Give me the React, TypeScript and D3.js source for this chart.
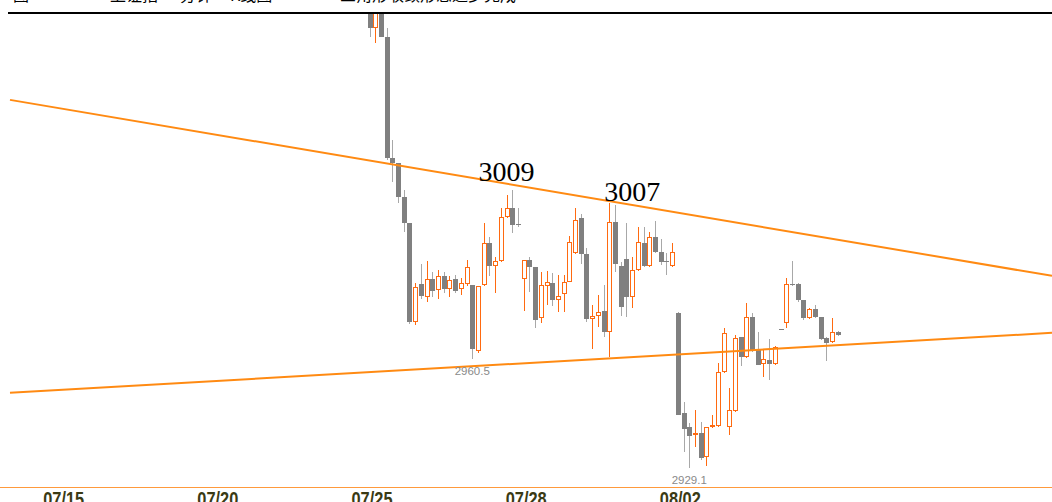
import React from 'react';
import * as d3 from 'd3';

const W = 1052;
const H = 502;

// 30-min candles, index 0 = first visible candle (07/25)
const opens = [
  3066.7, 3055.8, 3063.8, 3053.2, 3018.3, 3016.8, 3007.0, 2999.6, 2971.0, 2982.0,
  2978.2, 2983.4, 2980.2, 2984.3, 2980.5, 2983.4, 2980.5, 2982.0, 2981.7, 2962.7,
  2981.7, 2993.8, 2987.2, 2988.6, 3001.3, 3003.9, 2999.3, 2983.4, 2988.9, 2986.9,
  2972.2, 2981.4, 2982.3, 2977.4, 2979.1, 2982.5, 2990.9, 3001.0, 2990.6, 2971.9,
  2972.7, 2974.2, 2968.1, 2999.8, 2987.2, 2989.2, 2978.2, 2986.0, 2993.8, 2987.2,
  2995.5, 2991.2, 2988.6, 2987.2, 2973.6, 2944.8, 2940.8, 2938.7, 2939.0, 2932.1,
  2940.8, 2941.0, 2956.6, 2940.8, 2945.4, 2966.7, 2960.9, 2972.5, 2963.2, 2958.9,
  2960.1, 2958.9, 2969.0, 2970.7, 2982.0, 2982.0, 2977.4, 2972.2, 2974.8, 2972.5,
  2966.4, 2965.3, 2968.1,
];
const highs = [
  3068.1, 3066.2, 3064.7, 3055.8, 3023.5, 3016.8, 3009.1, 2999.6, 2982.3, 2987.7,
  2988.6, 2985.4, 2986.0, 2985.4, 2984.3, 2984.6, 2983.7, 2988.9, 2981.7, 2981.4,
  2999.6, 2995.5, 2989.8, 3003.9, 3007.6, 3009.0, 3003.9, 2988.9, 2989.8, 2986.9,
  2985.4, 2985.7, 2985.1, 2984.6, 2984.6, 2995.8, 3003.9, 3002.1, 2992.3, 2975.9,
  2978.8, 2981.7, 3005.4, 3004.7, 2988.3, 2999.6, 2989.8, 2998.4, 2998.4, 2997.0,
  3000.1, 2994.9, 2990.9, 2993.8, 2973.9, 2948.0, 2941.9, 2945.7, 2942.2, 2940.8,
  2944.2, 2959.2, 2969.3, 2952.0, 2967.3, 2966.7, 2976.5, 2973.6, 2968.1, 2963.0,
  2966.1, 2964.1, 2969.0, 2983.7, 2988.6, 2982.3, 2977.4, 2975.1, 2975.9, 2972.5,
  2966.7, 2972.2, 2968.4,
];
const lows = [
  3053.2, 3051.4, 3053.2, 3017.7, 3011.4, 3005.3, 2997.0, 2970.4, 2970.2, 2977.6,
  2976.8, 2978.2, 2977.6, 2979.4, 2978.2, 2979.4, 2978.8, 2981.4, 2960.5, 2962.1,
  2981.4, 2984.3, 2979.4, 2988.3, 3001.0, 2996.7, 2998.4, 2974.2, 2979.7, 2969.3,
  2970.7, 2975.9, 2975.6, 2973.9, 2973.9, 2982.5, 2990.6, 2987.7, 2971.0, 2963.2,
  2969.6, 2966.7, 2960.9, 2985.4, 2972.8, 2972.5, 2975.1, 2985.7, 2986.9, 2986.9,
  2990.9, 2987.4, 2984.6, 2986.9, 2944.2, 2933.6, 2929.1, 2935.0, 2931.3, 2929.5,
  2940.5, 2940.8, 2956.3, 2938.5, 2945.1, 2958.3, 2960.6, 2962.4, 2958.6, 2955.2,
  2954.3, 2958.6, 2969.0, 2969.3, 2981.4, 2976.8, 2971.6, 2971.9, 2972.2, 2965.8,
  2959.8, 2965.0, 2967.0,
];
const closes = [
  3055.8, 3065.3, 3053.2, 3018.3, 3016.8, 3007.0, 2999.6, 2971.0, 2981.1, 2978.5,
  2983.4, 2980.0, 2984.3, 2980.5, 2983.1, 2980.0, 2982.3, 2986.9, 2963.2, 2981.4,
  2993.8, 2987.2, 2988.6, 3001.3, 3003.9, 2999.0, 2999.1, 2988.9, 2986.9, 2971.6,
  2981.7, 2982.5, 2977.4, 2978.5, 2982.5, 2994.1, 3000.4, 2990.6, 2971.9, 2972.7,
  2973.9, 2968.1, 2999.8, 2987.7, 2975.3, 2978.2, 2986.0, 2994.1, 2987.2, 2995.5,
  2991.2, 2988.3, 2988.3, 2991.2, 2944.2, 2940.2, 2938.2, 2939.0, 2931.8, 2940.8,
  2941.3, 2956.6, 2967.8, 2945.7, 2966.4, 2960.9, 2972.5, 2963.0, 2958.6, 2960.4,
  2958.9, 2963.8, 2969.0, 2982.0, 2981.7, 2977.4, 2972.2, 2974.8, 2972.5, 2966.1,
  2965.0, 2968.1, 2967.3,
];

const dateTickIdx = [-54, -27, 0, 27, 54];
const dateTickLabels = ['07/15', '07/20', '07/25', '07/28', '08/02'];

const upperTrend: [number, number][] = [[-62.96, 3035.0], [119.53, 2984.3]];
const lowerTrend: [number, number][] = [[-62.96, 2950.6], [119.53, 2967.9]];

const peakLabels = ['3009', '3007'];
const peakLabelIdx = [24, 46];
const peakLabelPrice = [3011.7, 3005.9];

const lowLabelIdx = [18, 56];

const ORANGE = '#ff6a10';
const TREND = '#ff8a12';
const GRAY_BODY = '#808080';
const GRAY_WICK = '#a8a8a8';

export default function App() {
  const n = opens.length;
  const x = d3.scaleLinear().domain([0, n - 1]).range([369.5, 369.5 + (n - 1) * 5.71]);
  const y = d3.scaleLinear().domain([2929.1, 2960.5]).range([467.5, 358.5]);
  const line = d3.line<[number, number]>().x(d => x(d[0])).y(d => y(d[1]));

  const candles = d3.range(n).map(i => {
    const o = opens[i], c = closes[i], h = highs[i], l = lows[i];
    const up = c > o;
    const cx = Math.round(x(i));
    const top = Math.round(y(Math.max(o, c)));
    const bot = Math.round(y(Math.min(o, c)));
    const hh = Math.max(1, bot - top);
    return (
      <g key={i}>
        <line x1={cx + 0.5} x2={cx + 0.5} y1={Math.round(y(h))} y2={Math.round(y(l))}
          stroke={up ? ORANGE : GRAY_WICK} strokeWidth={1} />
        {up ? (
          <rect x={cx - 1.5} y={top + 0.5} width={4} height={Math.max(1, hh - 1)}
            fill="#fff" stroke={ORANGE} strokeWidth={1} />
        ) : (
          <rect x={cx - 2} y={top} width={5} height={hh} fill={GRAY_BODY} />
        )}
      </g>
    );
  });

  return (
    <svg width={W} height={H} style={{ position: 'absolute', left: 0, top: 0, background: '#fff' }}
      xmlns="http://www.w3.org/2000/svg">
      <defs>
        <clipPath id="plot">
          <rect x={0} y={14} width={W} height={473} />
        </clipPath>
      </defs>
      <text y={0.5} fontFamily="'Noto Sans CJK SC', sans-serif" fontSize={16} fill="#000">
        <tspan x={13}>图</tspan>
        <tspan x={110}>上证指</tspan>
        <tspan x={180}>分钟</tspan>
        <tspan x={230}>K线图</tspan>
        <tspan x={340}>三角形收敛形态逐步完成</tspan>
      </text>
      <g clipPath="url(#plot)">
        {candles}
        <path d={line(upperTrend) || ''} fill="none" stroke={TREND} strokeWidth={2} />
        <path d={line(lowerTrend) || ''} fill="none" stroke={TREND} strokeWidth={2} />
      </g>
      <line x1={8} x2={W} y1={13} y2={13} stroke="#000" strokeWidth={2} />
      {peakLabels.map((t, k) => (
        <text key={t} x={x(peakLabelIdx[k])} y={y(peakLabelPrice[k])} textAnchor="middle"
          fontFamily="'Liberation Serif', 'Times New Roman', serif" fontSize={28} fill="#000">{t}</text>
      ))}
      {lowLabelIdx.map(i => (
        <text key={i} x={x(i)} y={y(lows[i]) + 16} textAnchor="middle"
          fontFamily="'Liberation Sans', Arial, sans-serif" fontSize={11.5} fill="#8a8a8a">
          {lows[i].toFixed(1)}
        </text>
      ))}
      <line x1={0} x2={W} y1={487.5} y2={487.5} stroke="#ff9a3c" strokeWidth={1} />
      {dateTickIdx.map((i, k) => (
        <text key={k} x={x(i) + 2.5 - 20.5} y={506} textLength={41} lengthAdjust="spacingAndGlyphs"
          fontFamily="'Liberation Sans Narrow', 'Liberation Sans', Arial, sans-serif" fontWeight="bold"
          fontSize={20} fill="#3a3a14">{dateTickLabels[k]}</text>
      ))}
    </svg>
  );
}
